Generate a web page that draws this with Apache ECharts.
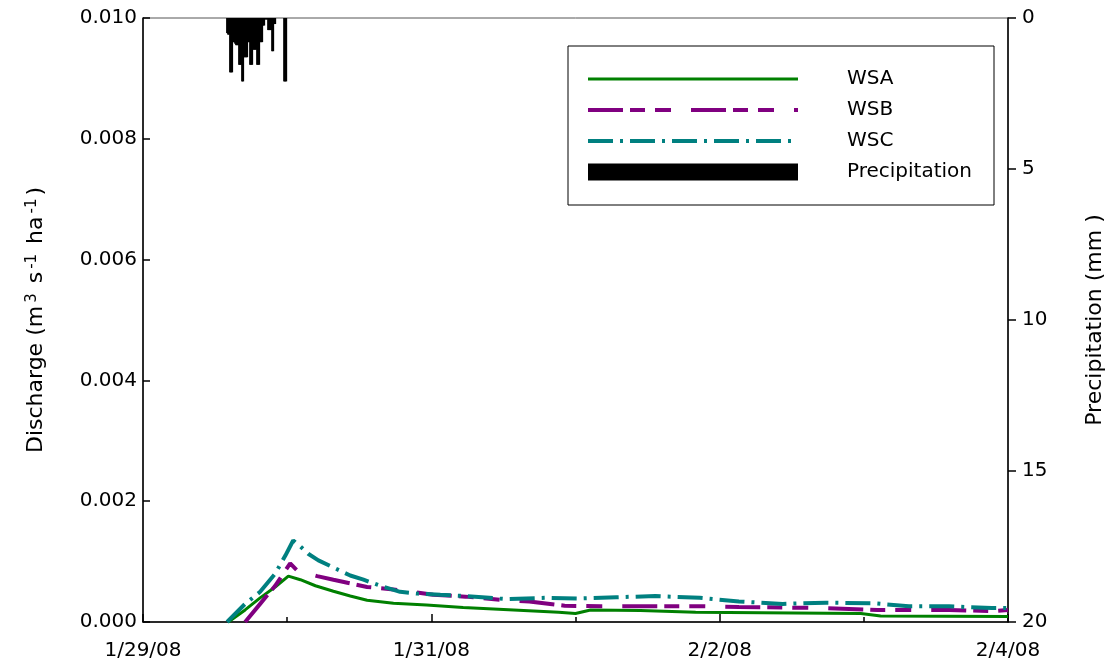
<!DOCTYPE html>
<html><head><meta charset="utf-8">
<script src="https://cdn.jsdelivr.net/npm/echarts@6/dist/echarts.min.js"></script>
<style>html,body{margin:0;padding:0;background:#fff}#c{width:1115px;height:664px}</style>
</head><body><div id="c"></div>
<script>
// x axis: hours since 1/29/08 00:00
const xTickHours = [0, 48, 96, 144];
const xTickLabels = ['1/29/08', '1/31/08', '2/2/08', '2/4/08'];

// Discharge (m3 s-1 ha-1)
const wsaHours  = [14.2, 17, 19.5, 22, 24.2, 26.2, 28.7, 31.7, 34.5, 37.3, 41.7, 47.2, 53.3, 61.7, 69.2, 72, 74.5, 82.8, 92, 119.5, 122.8, 144];
const wsaValues = [0, 0.0002, 0.0004, 0.00058, 0.00076, 0.0007, 0.0006, 0.00051, 0.00043, 0.00036, 0.00031, 0.00028, 0.00024, 0.0002, 0.00016, 0.00014, 0.0002, 0.00019, 0.00016, 0.00014, 0.0001, 0.00009];

const wsbHours  = [17, 19.5, 22, 24.5, 25.7, 29, 31.7, 37.3, 41.7, 48.3, 53.7, 60.3, 64.3, 70.2, 76.2, 93.3, 99.2, 106.5, 113.7, 122.3, 134.2, 141.3, 144];
const wsbValues = [0, 0.0003, 0.0006, 0.00097, 0.00085, 0.00076, 0.0007, 0.00058, 0.00054, 0.00045, 0.00042, 0.00036, 0.00034, 0.00027, 0.00026, 0.00026, 0.00025, 0.00024, 0.00023, 0.0002, 0.0002, 0.00018, 0.0002];

const wscHours  = [14, 17, 19.5, 22, 23.7, 25, 26.2, 27.5, 29.2, 32.8, 34.5, 36.7, 39.5, 42.8, 45.7, 49.5, 53.7, 60.3, 67, 72.8, 78.8, 85.3, 92.7, 99.2, 106.5, 113.7, 121.7, 127.5, 134.2, 141.3, 144];
const wscValues = [0, 0.0003, 0.0005, 0.0008, 0.0011, 0.00135, 0.00125, 0.00113, 0.00102, 0.00085, 0.00077, 0.0007, 0.0006, 0.0005, 0.00047, 0.00045, 0.00043, 0.00038, 0.0004, 0.00039, 0.00041, 0.00043, 0.0004, 0.00034, 0.0003, 0.00032, 0.00031, 0.00026, 0.00026, 0.00023, 0.00023];

// Precipitation (mm), minutes since 1/29/08 00:00
const precipMinutes = [840, 850, 860, 870, 880, 890, 900, 910, 920, 930, 940, 950, 960, 970, 980, 990, 1000, 1010, 1020, 1030, 1040, 1050, 1060, 1070, 1080, 1090, 1100, 1110, 1120, 1130, 1140, 1150, 1160, 1170, 1180, 1190, 1200, 1210, 1220, 1230, 1240, 1250, 1260, 1270, 1280, 1290, 1300, 1310, 1320, 1410, 1420, 1430];
const precipValues  = [0.5, 0.55, 0.55, 1.8, 1.8, 1.8, 0.8, 0.8, 0.85, 0.9, 0.9, 0.9, 1.55, 1.55, 1.55, 2.1, 2.1, 1.3, 1.3, 1.3, 1.3, 0.8, 0.8, 1.55, 1.55, 1.55, 1.05, 1.05, 1.05, 1.05, 1.55, 1.55, 1.55, 0.8, 0.8, 0.8, 0.25, 0.25, 0.05, 0.05, 0.05, 0.4, 0.4, 0.4, 0.4, 1.1, 1.1, 0.2, 0.2, 2.1, 2.1, 2.1];

const zip = (a, b) => a.map((v, i) => [v, b[i]]);
const FONT = 'DejaVu Sans';
const chart = echarts.init(document.getElementById('c'), null, {renderer: 'canvas'});
const noSym = {opacity: 0, color: 'transparent', borderWidth: 0};

chart.setOption({
  animation: false,
  backgroundColor: '#fff',
  grid: {left: 143, right: 107, top: 18, bottom: 42, show: true, borderColor: '#555', borderWidth: 1, backgroundColor: 'transparent'},
  legend: {
    orient: 'vertical', left: 568, top: 46,
    itemWidth: 210, itemHeight: 17, itemGap: 11,
    padding: [23, 22, 23, 18],
    borderColor: '#000', borderWidth: 1,
    textStyle: {fontFamily: FONT, fontSize: 20, color: '#000', padding: [0, 0, 0, 44]},
    data: [
      {name: 'WSA', itemStyle: noSym, lineStyle: {width: 3}},
      {name: 'WSB', itemStyle: noSym, lineStyle: {width: 4}},
      {name: 'WSC', itemStyle: noSym, lineStyle: {width: 4}},
      {name: 'Precipitation', icon: 'rect'}
    ]
  },
  xAxis: {
    type: 'value', min: 0, max: 144, interval: 48,
    axisLine: {show: true, lineStyle: {color: '#000', width: 1.5}},
    axisTick: {show: true, inside: true, length: 8, lineStyle: {color: '#000', width: 1.5}},
    minorTick: {show: true, splitNumber: 2, length: 5, lineStyle: {color: '#000', width: 1.5}},
    splitLine: {show: false},
    axisLabel: {
      margin: 19, fontFamily: FONT, fontSize: 20, color: '#000',
      formatter: v => { const i = xTickHours.indexOf(Math.round(v)); return i >= 0 ? xTickLabels[i] : ''; }
    }
  },
  yAxis: [{
    type: 'value', position: 'left', min: 0, max: 0.01, interval: 0.002,
    name: 'Discharge (m{sup|3} s{sup|-1} ha{sup|-1})',
    nameLocation: 'middle', nameGap: 96, nameRotate: 90,
    nameTextStyle: {fontFamily: FONT, fontSize: 22, color: '#000',
      rich: {sup: {fontFamily: FONT, fontSize: 15, color: '#000', verticalAlign: 'top', padding: [0, 3, 0, 3]}}},
    axisLine: {show: true, lineStyle: {color: '#000', width: 1.5}},
    axisTick: {show: true, inside: true, length: 7, lineStyle: {color: '#000', width: 1.5}},
    splitLine: {show: false},
    axisLabel: {margin: 6, fontFamily: FONT, fontSize: 20, color: '#000', formatter: v => v.toFixed(3)}
  }, {
    type: 'value', position: 'right', inverse: true, min: 0, max: 20, interval: 5,
    name: 'Precipitation (mm )',
    nameLocation: 'middle', nameGap: 76, nameRotate: 90,
    nameTextStyle: {fontFamily: FONT, fontSize: 22, color: '#000'},
    axisLine: {show: true, lineStyle: {color: '#000', width: 1.5}},
    axisTick: {show: true, inside: false, length: 8, lineStyle: {color: '#000', width: 1.5}},
    splitLine: {show: false},
    axisLabel: {margin: 14, fontFamily: FONT, fontSize: 20, color: '#000'}
  }],
  series: [{
    name: 'Precipitation', type: 'bar', yAxisIndex: 1, barWidth: 2, z: 1,
    itemStyle: {color: '#000'},
    data: zip(precipMinutes.map(m => m / 60), precipValues)
  }, {
    name: 'WSA', type: 'line', yAxisIndex: 0, symbol: 'none', z: 3,
    lineStyle: {color: '#008000', width: 3},
    itemStyle: {color: '#008000'},
    data: zip(wsaHours, wsaValues)
  }, {
    name: 'WSB', type: 'line', yAxisIndex: 0, symbol: 'none', z: 4,
    lineStyle: {color: '#800080', width: 4, type: [35, 7, 15, 10, 16, 20]},
    itemStyle: {color: '#800080'},
    data: zip(wsbHours, wsbValues)
  }, {
    name: 'WSC', type: 'line', yAxisIndex: 0, symbol: 'none', z: 5,
    lineStyle: {color: '#008080', width: 4, type: [25, 7, 3, 7]},
    itemStyle: {color: '#008080'},
    data: zip(wscHours, wscValues)
  }]
});
</script></body></html>
